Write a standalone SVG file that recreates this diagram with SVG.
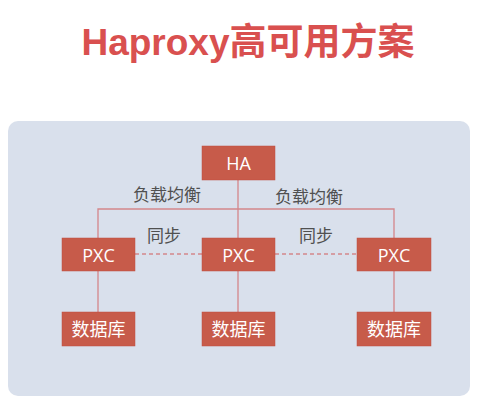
<svg xmlns="http://www.w3.org/2000/svg" width="500" height="416" viewBox="0 0 500 416">
<style>
.box{fill:#c75b4a;stroke:#c04e40;stroke-width:0.5}
.bt{fill:#ffffff;font-family:"Open Sans","Noto Sans CJK SC",sans-serif;font-size:18px;text-anchor:middle;dominant-baseline:central}
.lbl{fill:#505050;font-family:"Noto Sans CJK SC",sans-serif;font-size:17px;text-anchor:middle;dominant-baseline:central}
.ln{stroke:#d4868a;stroke-width:1.3;fill:none}
.dash{stroke:#d4868a;stroke-width:1.3;stroke-dasharray:4 3;fill:none}
</style>
<rect width="500" height="416" fill="#ffffff"/>
<text x="248" y="42" fill="#d9504f" font-family="'Liberation Sans','Noto Sans CJK SC',sans-serif" font-weight="bold" font-size="37" text-anchor="middle" dominant-baseline="central">Haproxy高可用方案</text>
<rect x="8" y="121" width="462" height="275" rx="10" fill="#d9e0ec"/>
<g id="connectors">
<line class="ln" x1="238" y1="180" x2="238" y2="238"/>
<polyline class="ln" points="98,238 98,209 394,209 394,238"/>
<line class="dash" x1="135" y1="254" x2="202" y2="254"/>
<line class="dash" x1="275" y1="254" x2="357" y2="254"/>
<line class="ln" x1="98" y1="271" x2="98" y2="312"/>
<line class="ln" x1="238" y1="271" x2="238" y2="312"/>
<line class="ln" x1="394" y1="271" x2="394" y2="312"/>
<text class="lbl" x="167" y="193">负载均衡</text>
<text class="lbl" x="309" y="195">负载均衡</text>
<text class="lbl" x="164" y="234">同步</text>
<text class="lbl" x="316" y="234">同步</text>
</g>
<g id="ha"><rect class="box" x="202" y="146" width="73" height="34"/><text class="bt" x="238.5" y="163">HA</text></g>
<g id="pxc1"><rect class="box" x="62" y="238" width="73" height="33"/><text class="bt" x="98.5" y="254.5">PXC</text></g>
<g id="pxc2"><rect class="box" x="202" y="238" width="73" height="33"/><text class="bt" x="238.5" y="254.5">PXC</text></g>
<g id="pxc3"><rect class="box" x="357" y="238" width="74" height="33"/><text class="bt" x="394" y="254.5">PXC</text></g>
<g id="db1"><rect class="box" x="62" y="312" width="73" height="34"/><text class="bt" x="98.5" y="329">数据库</text></g>
<g id="db2"><rect class="box" x="202" y="312" width="73" height="34"/><text class="bt" x="238.5" y="329">数据库</text></g>
<g id="db3"><rect class="box" x="357" y="312" width="74" height="34"/><text class="bt" x="394" y="329">数据库</text></g>
</svg>
